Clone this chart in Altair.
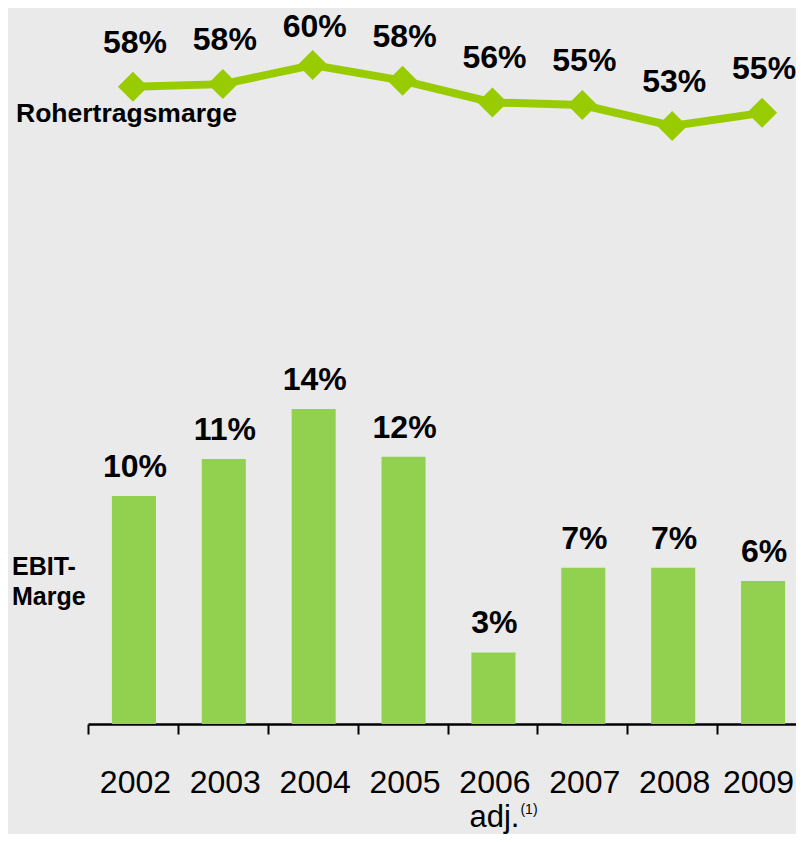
import altair as alt
import pandas as pd

years = ["2002", "2003", "2004", "2005", "2006", "2007", "2008", "2009"]
gross_margin = [57.6, 57.9, 60.1, 58.3, 55.8, 55.5, 53.1, 54.6]
gross_labels = ["58%", "58%", "60%", "58%", "56%", "55%", "53%", "55%"]
ebit_margin = [9.87, 11.47, 13.64, 11.57, 3.10, 6.77, 6.77, 6.19]
ebit_labels = ["10%", "11%", "14%", "12%", "3%", "7%", "7%", "6%"]

df = pd.DataFrame({
    "year": years,
    "gross": gross_margin,
    "gross_label": gross_labels,
    "ebit": ebit_margin,
    "ebit_label": ebit_labels,
})

FONT = "Liberation Sans"
LINE_GREEN = "#99CC00"
BAR_GREEN = "#92D050"
BG = "#EAEAEA"

x = alt.X(
    "year:N",
    sort=years,
    title=None,
    scale=alt.Scale(paddingInner=0, paddingOuter=0, range=[0, 719]),
    axis=alt.Axis(
        labelAngle=0,
        labelFontSize=32,
        labelFont=FONT,
        labelColor="black",
        labelBaseline="alphabetic",
        labelPadding=58,
        labelOffset={"condition": {"test": "datum.value === '2009'", "value": -4}, "value": 2},
        tickBand="extent",
        tickSize=10,
        tickWidth=2,
        tickColor="black",
        domainColor="black",
        domainWidth=2.5,
        grid=False,
    ),
)

base = alt.Chart(df)

y_bar = alt.Y("ebit:Q", scale=alt.Scale(domain=[0, 31], nice=False, zero=True), axis=None)
bars = base.mark_bar(color=BAR_GREEN, width=alt.RelativeBandSize(0.49), xOffset=1).encode(x=x, y=y_bar)
bar_text = base.mark_text(
    font=FONT, fontSize=32, fontWeight="bold", baseline="alphabetic", dy=-19, dx=2, color="black"
).encode(x=x, y=y_bar, text="ebit_label:N")
bar_layer = alt.layer(bars, bar_text)

y_line = alt.Y("gross:Q", scale=alt.Scale(domain=[-15.65, 66.65], nice=False, zero=False), axis=None)
line = base.mark_line(color=LINE_GREEN, strokeWidth=8).encode(x=x, y=y_line)
pts = base.mark_point(shape="diamond", filled=True, size=900, color=LINE_GREEN, opacity=1, strokeWidth=0).encode(x=x, y=y_line)
line_text = base.transform_filter("datum.year !== '2004'").mark_text(
    font=FONT, fontSize=32, fontWeight="bold", baseline="alphabetic", dy=-34, dx=2, color="black"
).encode(x=x, y=y_line, text="gross_label:N")
line_text_peak = base.transform_filter("datum.year === '2004'").mark_text(
    font=FONT, fontSize=32, fontWeight="bold", baseline="alphabetic", dy=-28, dx=2, color="black"
).encode(x=x, y=y_line, text="gross_label:N")
line_layer = alt.layer(line, pts, line_text, line_text_peak)

ann_gross = alt.Chart(pd.DataFrame({"t": ["Rohertragsmarge"]})).mark_text(
    font=FONT, fontSize=26.5, fontWeight="bold", align="left", baseline="alphabetic", color="black"
).encode(x=alt.value(-72), y=alt.value(114), text="t:N")

ann_ebit = alt.Chart(pd.DataFrame({"t": ["EBIT-\nMarge"]})).mark_text(
    font=FONT, fontSize=25, fontWeight="bold", align="left", baseline="alphabetic",
    lineBreak="\n", lineHeight=30, color="black"
).encode(x=alt.value(-76), y=alt.value(567), text="t:N")

adj_df = pd.DataFrame({"year": ["2006"], "t": ["adj."], "s": ["(1)"]})
ann_adj = alt.Chart(adj_df).mark_text(
    font=FONT, fontSize=31, align="center", baseline="alphabetic", dx=2, color="black"
).encode(x=x, y=alt.value(819), text="t:N")
ann_sup = alt.Chart(adj_df).mark_text(
    font=FONT, fontSize=14, align="left", baseline="alphabetic", dx=28, color="black"
).encode(x=x, y=alt.value(806), text="s:N")

chart = alt.layer(bar_layer, line_layer, ann_gross, ann_ebit, ann_adj, ann_sup).resolve_scale(
    y="independent"
).properties(
    width=708,
    height=716,
    padding={"left": 80, "top": 0, "right": 0, "bottom": 110},
    autosize=alt.AutoSizeParams(type="none"),
    background=BG,
).configure_view(stroke=None)

chart.save("out.html", embed_options={"renderer": "svg", "actions": False})
